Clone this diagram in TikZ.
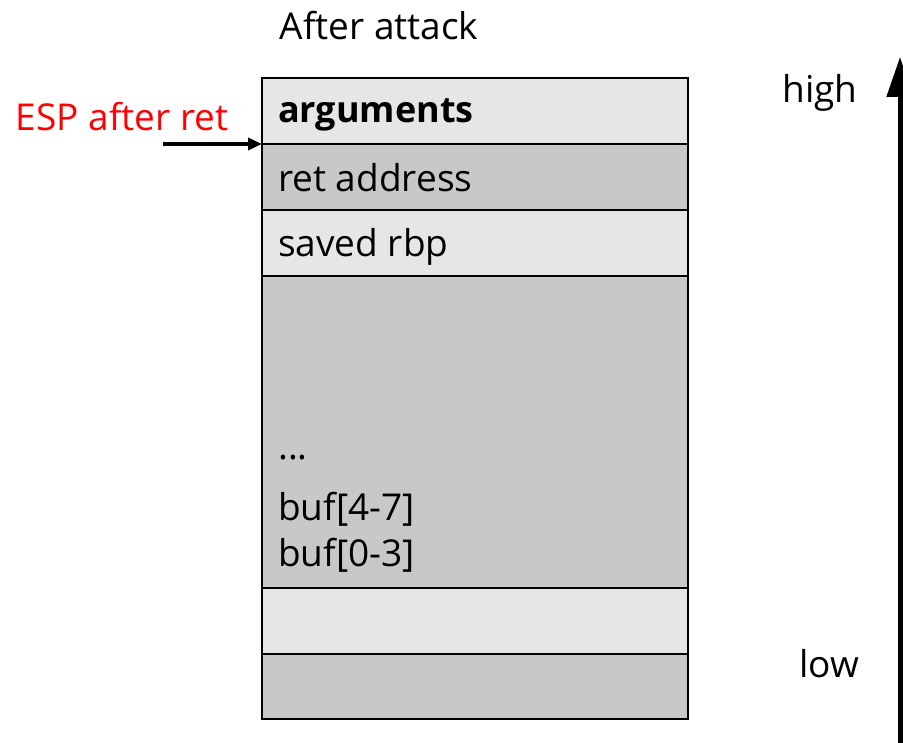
\documentclass[tikz,border=0pt]{standalone}
\usepackage{fontspec}
\setmainfont{Open Sans}
\usetikzlibrary{arrows.meta}
\definecolor{lightcell}{HTML}{E6E6E6}
\definecolor{darkcell}{HTML}{C8C8C8}
\definecolor{espred}{HTML}{FF0000}
\begin{document}
\begin{tikzpicture}[x=1pt,y=-1pt,
  cell/.style={draw=black,line width=1.6pt,inner sep=0pt,outer sep=0pt,minimum width=426pt,anchor=north west},
  lbl/.style={font=\fontsize{37}{44}\selectfont,inner sep=0pt,anchor=base west},
  side/.style={font=\fontsize{37}{44}\selectfont,inner sep=0pt,anchor=base}]
\useasboundingbox (0,0) rectangle (903,743);
\begin{scope}
\clip (0,0) rectangle (903,743);
\node[cell,fill=lightcell,minimum height=66pt] (c1) at (262,78) {};
\node[cell,fill=darkcell,minimum height=66pt] (c2) at (262,144) {};
\node[cell,fill=lightcell,minimum height=66pt] (c3) at (262,210) {};
\node[cell,fill=darkcell,minimum height=312pt] (c4) at (262,276) {};
\node[cell,fill=lightcell,minimum height=66pt] (c5) at (262,588) {};
\node[cell,fill=darkcell,minimum height=65pt] (c6) at (262,654) {};
\node[lbl,font=\fontsize{36}{44}\selectfont\bfseries] (t1) at (278,123) {arguments};
\node[lbl] (t2) at (278,192) {ret address};
\node[lbl] (t3) at (278,257) {saved rbp};
\node[lbl] (t4) at (278,460) {...};
\node[lbl] (t5) at (278,520) {buf[4-7]};
\node[lbl] (t6) at (278,566) {buf[0-3]};
\node[side] (title) at (379,40) {After attack};
\node[side,text=espred] (esp) at (122,131) {ESP after ret};
\node[side] (high) at (820,103) {high};
\node[side] (low) at (829,677) {low};
\coordinate (espstart) at (163,144);
\draw[line width=3.5pt,-{Triangle[length=14pt,width=12pt]}] (espstart) -- (c2.north west);
\coordinate (ab) at (900,760);
\coordinate (at) at (900,57);
\draw[line width=5pt,-{Triangle[length=40pt,width=26pt]}] (ab) -- (at);
\end{scope}
\end{tikzpicture}
\end{document}
